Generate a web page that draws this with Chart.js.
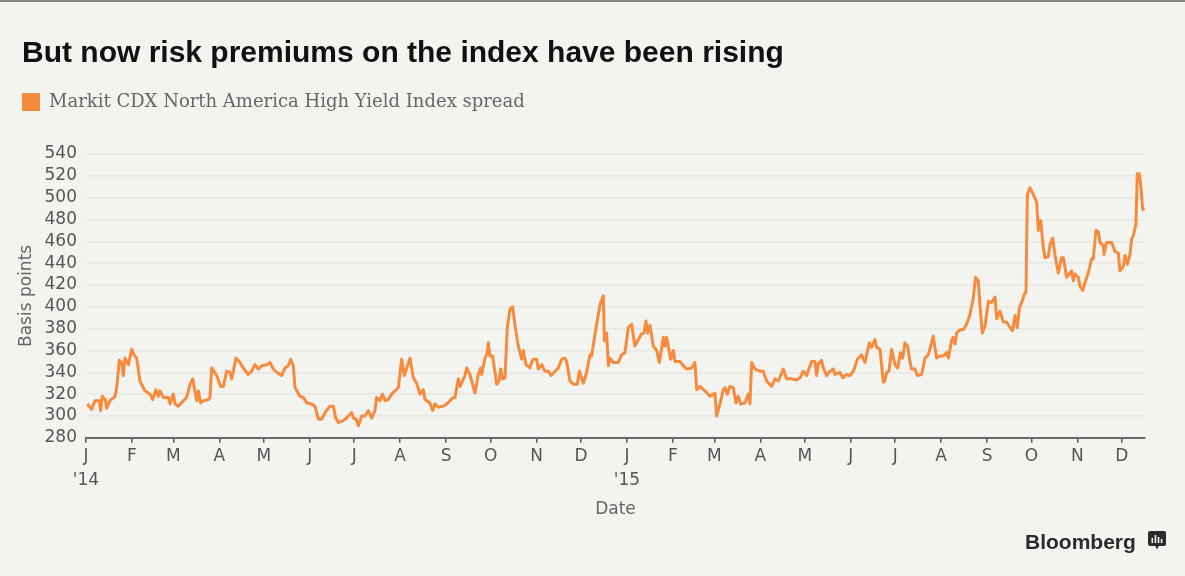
<!DOCTYPE html>
<html>
<head>
<meta charset="utf-8">
<script src="https://cdn.jsdelivr.net/npm/chart.js@4.4.1/dist/chart.umd.min.js"></script>
<style>
  html, body { margin: 0; padding: 0; background: #f3f3ef; }
  body { width: 1185px; height: 576px; position: relative; overflow: hidden; }
  #topline { position: absolute; left: 0; top: 0; width: 1185px; height: 2px; background: #858585; }
  #c { position: absolute; left: 0; top: 0; }
  #brand { position: absolute; left: 1025px; top: 530px; line-height: 21px; font: bold 21px "Liberation Sans", Arial, sans-serif; color: #2b2b2b; }
  #icon { position: absolute; left: 1148px; top: 531px; }
</style>
</head>
<body>
<div id="topline"></div>
<canvas id="c" width="1185" height="576"></canvas>
<div id="brand">Bloomberg</div>
<svg id="icon" width="18" height="20" viewBox="0 0 18 20">
  <rect x="0" y="0" width="18" height="15" rx="2" fill="#2b2b2b"/>
  <path d="M7 14.5 L9 18.5 L11 14.5 Z" fill="#2b2b2b"/>
  <rect x="3.5" y="7" width="1.6" height="5" fill="#f3f3ef"/>
  <rect x="6.6" y="4" width="1.6" height="8" fill="#f3f3ef"/>
  <rect x="9.7" y="6" width="1.6" height="6" fill="#f3f3ef"/>
  <rect x="12.8" y="8" width="1.6" height="4" fill="#f3f3ef"/>
</svg>
<script>
// ---- Text ----
const chartTitle = 'But now risk premiums on the index have been rising';
const seriesName = 'Markit CDX North America High Yield Index spread';
const xAxisTitle = 'Date';
const yAxisTitle = 'Basis points';

// ---- Tick labels ----
const monthLabels = ['J','F','M','A','M','J','J','A','S','O','N','D',
                     'J','F','M','A','M','J','J','A','S','O','N','D'];
const yearLabels = { 0: "'14", 12: "'15" };
const yMin = 280, yMax = 540, yStep = 20;

// ---- Series: days since 1 Jan 2014, spread in basis points ----
const dayOffsets = [
  0.9,3.8,6.1,9.0,9.9, 11.0,13.0,13.9,16.2,19.6,
  20.7,22.5,24.1,25.2,26.3, 28.6,30.8,32.4,34.2,36.4,
  39.8,43.2,45.0,47.2,48.8, 49.9,52.2,55.6,56.7,58.9,
  60.1,62.3,65.7,67.9,70.2, 72.0,73.5,74.7,75.8,77.4,
  79.2,82.5,83.7,84.8,88.2, 90.9,92.7,94.9,97.2,98.3,
  99.4,101.2,103.9,106.2,109.5, 111.8,114.0,116.3,118.5,121.9,
  124.2,126.4,128.7,132.0,134.3, 136.5,138.1,139.9,141.0,144.4,
  146.6,148.9,152.3,154.5,156.8, 159.0,161.3,164.6,166.9,168.5,
  170.3,172.5,174.8,177.0,179.3, 180.4,182.2,183.8,186.0,188.3,
  190.5,192.8,195.0,196.1,198.4, 200.0,201.8,204.0,206.3,210.8,
  213.0,214.8,216.4,218.6,220.9, 223.1,225.4,227.6,228.7,232.1,
  233.9,235.5,237.7,241.1,243.4, 245.6,247.9,249.0,251.2,252.4,
  255.7,256.9,259.1,262.5,264.7, 266.3,267.0,269.2,270.4,271.5,
  272.6,274.4,277.1,278.7,279.8, 281.1,282.7,284.3,286.1,287.9,
  289.5,291.7,294.0,295.1,296.9, 299.6,300.7,301.8,304.1,305.2,
  307.5,309.7,312.0,313.8,316.5, 318.7,321.0,323.2,324.3,326.6,
  328.8,331.5,332.9,335.6,337.8, 340.1,341.2,343.5,346.8,349.1,
  349.8,351.3,352.5,353.6,355.8, 359.2,361.4,363.7,365.9,368.2,
  370.4,372.7,374.9,376.5,377.9, 379.0,380.6,382.8,385.1,386.9,
  389.6,390.7,391.8,394.5,396.3, 397.4,400.8,403.1,405.3,408.7,
  410.9,412.1,414.3,417.7,421.1, 424.4,425.5,427.8,430.0,431.2,
  432.7,434.5,436.8,438.6,440.2, 441.7,444.7,446.9,448.0,449.2,
  451.4,454.8,457.0,459.3,462.7, 464.9,467.2,
  470.5,472.8,476.2,479.5,481.8, 484.0,486.3,489.6,491.9,493.0,
  494.2,496.4,497.5,499.8,502.0, 504.3,505.4,508.8,510.6,513.3,
  515.5,517.8,520.5,523.4,525.6, 528.6,530.1,532.4,533.5,535.8,
  538.0,539.1,540.3,541.8,543.6, 545.9,547.7,549.7,551.1,552.6,
  554.4,556.0,557.1,559.4,561.0, 563.9,566.1,568.4,571.7,574.0,
  576.2,578.5,580.7,581.9,584.1, 585.2,586.4,587.5,589.7,592.0,
  594.2,596.5,598.7,600.3,602.1, 603.2,604.8,606.6,608.9,611.1,
  613.4,614.5,616.7,619.0,621.2, 623.5,625.3,626.9,628.4,629.8,
  631.4,633.6,634.3,635.2,637.0, 639.2,641.5,642.6,644.2,646.0,
  647.1,649.3,650.5,652.3,653.8, 656.1,658.3,659.5,661.7,664.0,
  665.1,666.2,667.3,669.6,670.7, 672.5,674.1,676.3,678.6,679.7,
  681.5,683.1,684.2,686.5,686.9, 688.7,692.1,694.3,696.6,697.7,
  700.0,701.1,702.7,704.5,705.6, 706.7,708.5,709.4,710.7,711.7,
  713.0,713.9
];
const spreadValues = [
  311,306,314,314,305, 318,315,307,314,318,
  326,351,349,337,353, 347,361,356,353,332,
  323,320,315,324,318, 323,317,317,311,320,
  311,309,314,317,329, 334,323,314,323,312,
  314,315,317,344,337, 327,327,341,340,334,
  341,353,349,344,338, 341,347,343,346,347,
  349,343,340,337,344, 346,352,346,326,318,
  317,312,311,309,297, 297,303,309,309,298,
  294,295,297,300,303, 298,297,291,300,300,
  305,298,305,317,314, 320,314,315,320,326,
  352,337,344,353,335, 330,320,324,315,312,
  305,311,308,309,311, 314,317,317,334,327,
  337,344,338,321,338, 344,338,353,356,367,
  355,355,329,332,343, 334,335,381,398,400,
  383,364,352,360,347, 344,349,352,352,343,
  347,341,341,337,341, 344,352,353,350,332,
  329,329,341,330,340, 356,355,375,402,410,
  369,376,346,353,349, 349,356,358,381,384,
  364,370,375,376,387, 376,383,364,360,349,
  372,364,372,352,360, 350,350,346,343,344,
  349,324,327,323,318, 321,300,311,324,326,
  320,327,326,312,318, 311,312,320,311,349,
  343,341,341,332,327, 334,332,
  343,334,334,333,335, 341,337,350,350,337,
  348,351,344,337,341, 343,338,340,335,338,
  337,341,352,356,349, 367,363,370,363,361,
  331,332,340,341,361, 347,344,358,353,367,
  364,350,343,343,337, 338,353,356,373,353,
  355,355,358,353,369, 372,366,376,379,379,
  384,393,408,427,424, 402,376,382,405,404,
  409,389,396,386,386, 381,378,392,381,399,
  404,413,413,503,509, 503,496,470,479,454,
  445,446,457,463,448, 431,445,445,427,431,
  433,424,430,427,419, 415,422,431,444,444,
  470,469,459,456,448, 459,459,451,449,433,
  437,447,439,448,462, 465,476,522,522,512,
  490,488
];

// ---- derived ----
const DAY0 = Date.UTC(2014, 0, 1);
const monthStartDays = monthLabels.map((_, i) => (Date.UTC(2014, i, 1) - DAY0) / 86400000);
const lastDay = 714.6;
const points = dayOffsets.map((d, i) => ({ x: d, y: spreadValues[i] }));

const ORANGE = '#f68b3d';
const SANS = 'DejaVu Sans';

new Chart(document.getElementById('c'), {
  type: 'line',
  data: {
    datasets: [{
      label: seriesName,
      data: points,
      borderColor: ORANGE,
      backgroundColor: ORANGE,
      borderWidth: 3,
      pointRadius: 0,
      pointHoverRadius: 0,
      tension: 0,
      borderJoinStyle: 'round',
      fill: false
    }]
  },
  options: {
    responsive: false,
    animation: false,
    events: [],
    layout: { padding: { top: 10, left: 22, right: 40, bottom: 40 } },
    plugins: {
      title: {
        display: true, text: chartTitle, align: 'start', color: '#111',
        font: { family: 'Liberation Sans', size: 30, weight: 'bold', lineHeight: 1.2 },
        padding: { top: 26, bottom: 21 }
      },
      subtitle: {
        display: true, text: '', weight: 500,
        font: { size: 10, lineHeight: 1.2 },
        padding: { top: 21, bottom: 0 }
      },
      legend: {
        display: true, position: 'top', align: 'start',
        labels: {
          boxWidth: 18, boxHeight: 18, padding: 0, color: '#666',
          font: { family: 'DejaVu Serif', size: 18 },
          generateLabels: (chart) => Chart.defaults.plugins.legend.labels.generateLabels(chart)
            .map(l => Object.assign({}, l, { lineWidth: 0, strokeStyle: 'rgba(0,0,0,0)' }))
        }
      },
      tooltip: { enabled: false }
    },
    scales: {
      x: {
        type: 'linear',
        min: 0,
        max: lastDay,
        afterBuildTicks: (axis) => { axis.ticks = monthStartDays.map(v => ({ value: v })); },
        ticks: {
          autoSkip: false, maxRotation: 0, minRotation: 0, padding: 1, color: '#555',
          font: { family: SANS, size: 17, lineHeight: 1.45 },
          callback: (v, i) => (yearLabels[i] ? [monthLabels[i], yearLabels[i]] : monthLabels[i])
        },
        grid: { display: true, drawOnChartArea: false, drawTicks: true, tickLength: 5, color: '#555', lineWidth: 1.5 },
        border: { display: true, color: '#6a6a6a', width: 2 },
        title: {
          display: true, text: xAxisTitle, color: '#666',
          font: { family: SANS, size: 17, lineHeight: 1.2 },
          padding: { top: 5.5, bottom: 16 }
        }
      },
      y: {
        min: yMin,
        max: yMax,
        afterFit: (s) => { s.width = 64; },
        ticks: {
          stepSize: yStep, autoSkip: false, padding: 9, color: '#555',
          font: { family: SANS, size: 17, lineHeight: 1.0 }
        },
        grid: { color: '#e6e6e2', lineWidth: 1.5, drawTicks: false },
        border: { display: false },
        title: {
          display: true, text: yAxisTitle, color: '#666',
          font: { family: SANS, size: 17, lineHeight: 1.2 },
          padding: { top: -6, bottom: 4 }
        }
      }
    }
  }
});
</script>
</body>
</html>
